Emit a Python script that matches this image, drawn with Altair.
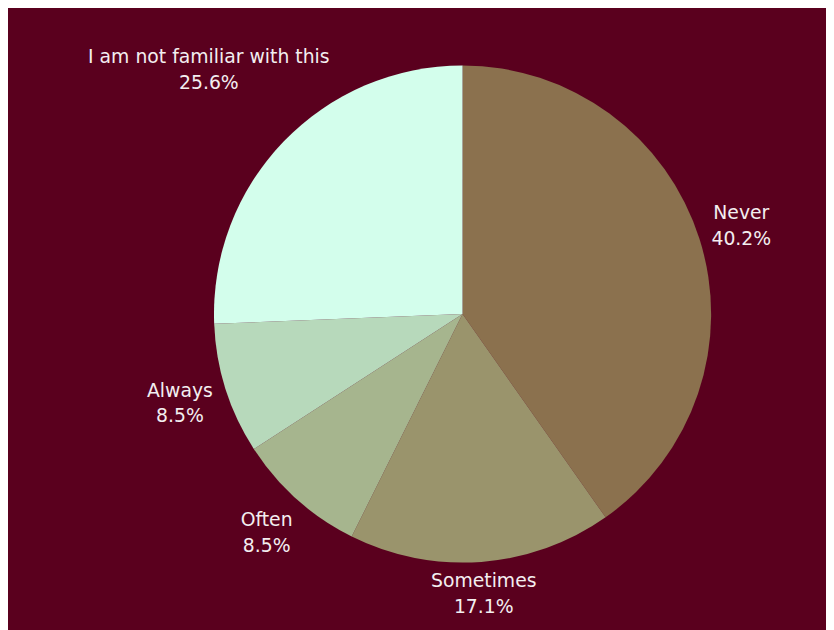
import altair as alt
import pandas as pd

categories = ["Never", "Sometimes", "Often", "Always", "I am not familiar with this"]
values = [40.2, 17.1, 8.5, 8.5, 25.6]
colors = ["#8B714E", "#9A946C", "#A6B58E", "#B7D9BB", "#D3FEEC"]

df = pd.DataFrame({"cat": categories, "value": values, "idx": list(range(len(categories)))})

CX, CY, R = 459, 306, 251
GAP, H, CHARW, WPAD = 10, 44, 8.5, 16
LH = 26
BG = "#5A001E"

arc = alt.Chart(df).mark_arc(outerRadius=R, stroke=None).encode(
    theta=alt.Theta("value:Q", stack=True),
    order=alt.Order("idx:Q"),
    color=alt.Color("cat:N", scale=alt.Scale(domain=categories, range=colors), legend=None),
    x=alt.value(CX),
    y=alt.value(CY),
)

text = (
    alt.Chart(df)
    .transform_window(cum="sum(value)", sort=[alt.SortField("idx")])
    .transform_joinaggregate(total="sum(value)")
    .transform_calculate(
        pct="format(datum.value, '.1f') + '%'",
        ang="(datum.cum - datum.value / 2) / datum.total * 2 * PI",
    )
    .transform_calculate(
        w=f"max(length(datum.cat), length(datum.pct)) * {CHARW} + {WPAD}",
        a="abs(sin(datum.ang))",
        b="abs(cos(datum.ang))",
    )
    .transform_calculate(
        s="datum.a * datum.w + datum.b * " + str(H),
    )
    .transform_calculate(
        dq=f"(datum.s + sqrt(datum.s * datum.s - datum.w * datum.w - {H*H} + 4 * {(R+GAP)**2})) / 2",
    )
    .transform_calculate(
        d=f"datum.dq * datum.a < datum.w / 2 ? ({R+GAP} + {H/2}) / datum.b : (datum.dq * datum.b < {H/2} ? ({R+GAP} + datum.w / 2) / datum.a : datum.dq)",
    )
    .transform_calculate(
        px=f"{CX} + datum.d * sin(datum.ang)",
        py=f"{CY} - datum.d * cos(datum.ang)",
        label="datum.cat + '\\n' + datum.pct",
    )
    .mark_text(lineBreak="\n", lineHeight=LH, fontSize=19, font="DejaVu Sans",
               color="#F3EEF0", align="center", baseline="middle", dy=-LH / 2)
    .encode(
        x=alt.X("px:Q", scale=None, axis=None),
        y=alt.Y("py:Q", scale=None, axis=None),
        text="label:N",
    )
)

chart = (
    alt.layer(arc, text)
    .properties(width=826, height=622, background=BG, padding=0)
    .configure_view(stroke=None)
)

chart.save("out.html", embed_options={"renderer": "svg", "actions": False})
